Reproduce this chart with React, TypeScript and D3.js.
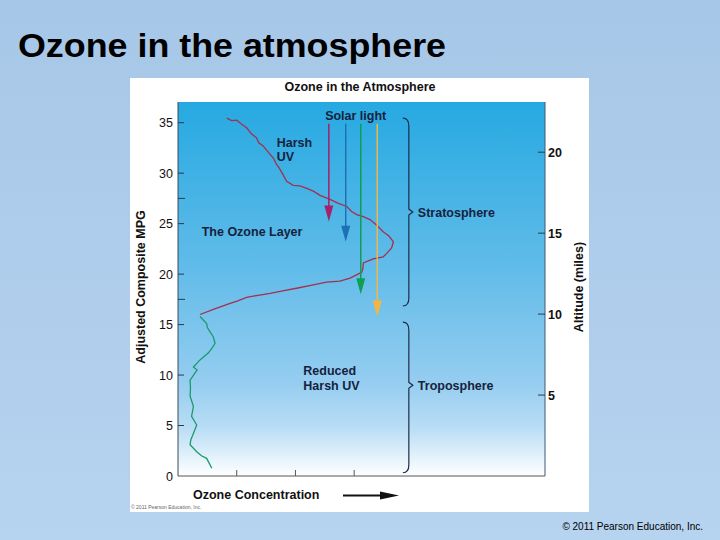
import React from "react";
import * as d3 from "d3";

// ---- data ----
const mpgTicks = [0, 5, 10, 15, 20, 25, 30, 35];
const mpgMinorTicks = [17.5, 27.5];
const milesTicks = [5, 10, 15, 20];
const concTicks = [16, 32, 48];

// ozone profile, upper (stratosphere) segment: [concentration, altitude MPG]
const ozoneUpper: [number, number][] = [
  [13.3, 35.45], [14.6, 35.2], [16.0, 35.25], [17.2, 34.9], [18.7, 34.5], [20.0, 33.9],
  [21.4, 33.5], [22.0, 33.0], [23.2, 32.7], [24.3, 32.2], [25.97, 31.5], [26.8, 30.9],
  [27.6, 30.5], [28.7, 29.8], [29.6, 29.2], [31.4, 28.8], [33.2, 28.75], [35.1, 28.5],
  [37.0, 28.2], [38.7, 27.8], [41.4, 27.4], [43.7, 27.0], [46.0, 26.7], [47.3, 26.2],
  [48.7, 25.9], [50.5, 25.7], [52.3, 25.4], [54.0, 24.9], [55.9, 24.2], [57.4, 23.8],
  [58.7, 23.2], [58.2, 22.6], [57.0, 22.1], [55.9, 21.7], [53.2, 21.5], [50.5, 21.1],
  [50.4, 20.6], [50.1, 20.2], [48.5, 19.9], [46.9, 19.6], [44.1, 19.3], [40.5, 19.2],
  [36.5, 18.9], [32.3, 18.6], [28.5, 18.35], [25.1, 18.1], [21.8, 17.9], [18.7, 17.7],
  [16.3, 17.35], [14.2, 17.1], [10.0, 16.55], [6.0, 16.0]
];
// ozone profile, lower (troposphere) segment
const ozoneLower: [number, number][] = [
  [6.0, 15.8], [7.8, 15.1], [8.0, 14.7], [8.7, 14.3], [9.6, 13.8], [10.1, 13.15],
  [9.3, 12.7], [8.3, 12.2], [6.0, 11.5], [4.2, 10.8], [5.2, 10.5], [4.6, 10.2],
  [3.3, 9.5], [3.4, 8.7], [3.3, 7.9], [4.2, 6.9], [3.7, 5.9], [5.1, 5.05],
  [4.2, 4.2], [3.5, 3.6], [3.3, 3.1], [5.1, 2.4], [6.4, 2.0], [7.8, 1.75],
  [8.6, 1.2], [9.2, 0.76]
];

// solar light arrows: concentration position, start & tip altitude (MPG)
const arrowConc = [41.1, 45.7, 49.8, 54.3];
const arrowStart = [34.9, 34.9, 34.9, 34.9];
const arrowTip = [25.2, 23.2, 18.0, 15.8];

// layer braces (miles)
const layerNames = ["Stratosphere", "Troposphere"];
const layerFrom = [10.5, 0.2];
const layerTo = [22.1, 9.5];
const layerMid = [16.3, 5.6];

// ---- styles ----
const arrowColors = ["#a6206a", "#1f6fb6", "#0e9f52", "#f4b642"];
const navy = "#16223d";
const FONT = "'Liberation Sans', Arial, Helvetica, sans-serif";

export default function App() {
  const W = 720, H = 540;
  const left = 178, right = 545, top = 102, bottom = 476;

  const x = d3.scaleLinear().domain([0, 100]).range([left, right]);
  const y = d3.scaleLinear().domain([0, 37.05]).range([bottom, top]);
  const ym = d3.scaleLinear().domain([0, 23.1]).range([bottom, top]);

  const line = d3.line<[number, number]>().x((d) => x(d[0])).y((d) => y(d[1]));

  const bracePath = (bx: number, y0: number, y1: number, ymid: number) => {
    // y0 top (smaller px), y1 bottom
    return `M${bx - 6},${y0} Q${bx},${y0} ${bx},${y0 + 8} L${bx},${ymid - 3} L${bx + 4},${ymid} L${bx},${ymid + 3} L${bx},${y1 - 8} Q${bx},${y1} ${bx - 6},${y1}`;
  };
  const braceX = x(62.9);

  return (
    <svg width={W} height={H} style={{ position: "absolute", left: 0, top: 0 }} fontFamily={FONT}>
      <defs>
        <linearGradient id="slideBg" x1="0" y1="0" x2="0" y2="1">
          <stop offset="0" stopColor="#a7c7e8" />
          <stop offset="1" stopColor="#b6d3ef" />
        </linearGradient>
        <linearGradient id="skyBg" x1="0" y1="0" x2="0" y2="1">
          <stop offset="0" stopColor="#26a9e1" />
          <stop offset="0.45" stopColor="#62bce9" />
          <stop offset="0.75" stopColor="#95cdf0" />
          <stop offset="0.87" stopColor="#b8ddf5" />
          <stop offset="1" stopColor="#ffffff" />
        </linearGradient>
      </defs>
      <rect x={0} y={0} width={W} height={H} fill="url(#slideBg)" />
      <text x={18} y={57} fontSize={33} fontWeight="bold" fill="#000" textLength={428} lengthAdjust="spacingAndGlyphs">
        Ozone in the atmosphere
      </text>
      <text x={703} y={530} fontSize={10} fill="#000" textAnchor="end">© 2011 Pearson Education, Inc.</text>

      {/* white panel */}
      <rect x={130} y={78} width={459} height={434} fill="#ffffff" />
      <text x={360} y={91} fontSize={12.5} fontWeight="bold" fill="#111" textAnchor="middle">
        Ozone in the Atmosphere
      </text>

      {/* plot background */}
      <rect x={left} y={top} width={right - left} height={bottom - top} fill="url(#skyBg)" />

      {/* axes */}
      <line x1={left} x2={left} y1={top} y2={bottom} stroke="#3a4a5a" strokeWidth={1} />
      <line x1={right} x2={right} y1={top} y2={bottom} stroke="#3a5a78" strokeWidth={1} />
      <line x1={left} x2={right} y1={bottom} y2={bottom} stroke="#555" strokeWidth={1} />

      {mpgTicks.map((t) => (
        <g key={"m" + t}>
          {t > 0 && <line x1={left} x2={left + 6} y1={y(t)} y2={y(t)} stroke="#2a3a4a" />}
          <text x={173} y={y(t)} dy="0.36em" fontSize={12.5} textAnchor="end" fill="#111">{t}</text>
        </g>
      ))}
      {mpgMinorTicks.map((t) => (
        <line key={"mm" + t} x1={left} x2={left + 7} y1={y(t)} y2={y(t)} stroke="#2a3a4a" />
      ))}
      {milesTicks.map((t) => (
        <g key={"mi" + t}>
          <line x1={right - 7} x2={right} y1={ym(t)} y2={ym(t)} stroke="#2a3a4a" />
          <text x={548} y={ym(t)} dy="0.36em" fontSize={12.5} fontWeight="bold" fill="#111">{t}</text>
        </g>
      ))}
      {concTicks.map((t) => (
        <line key={"c" + t} x1={x(t)} x2={x(t)} y1={bottom} y2={bottom - 6} stroke="#555" />
      ))}

      <text transform="translate(145,287) rotate(-90)" fontSize={12.5} fontWeight="bold" textAnchor="middle" fill="#111">
        Adjusted Composite MPG
      </text>
      <text transform="translate(583,287) rotate(-90)" fontSize={12.5} fontWeight="bold" textAnchor="middle" fill="#111">
        Altitude (miles)
      </text>

      <text x={193} y={499} fontSize={12.5} fontWeight="bold" fill="#111">Ozone Concentration</text>
      <line x1={343} x2={382} y1={495.5} y2={495.5} stroke="#111" strokeWidth={2} />
      <path d={`M380,491.5 L399,495.5 L380,499.5 Z`} fill="#111" />
      <text x={131} y={509} fontSize={5} fill="#666">© 2011 Pearson Education, Inc.</text>

      {/* ozone profile */}
      <path d={line(ozoneUpper) || ""} fill="none" stroke="#a3304e" strokeWidth={1.3} />
      <path d={line(ozoneLower) || ""} fill="none" stroke="#1d9a6c" strokeWidth={1.3} />

      {/* solar arrows */}
      {arrowConc.map((c, i) => {
        const ax = x(c);
        const ty = y(arrowTip[i]);
        return (
          <g key={"a" + i}>
            <line x1={ax} x2={ax} y1={y(arrowStart[i])} y2={ty - 12} stroke={arrowColors[i]} strokeWidth={1.5} />
            <path d={`M${ax - 4.5},${ty - 16} L${ax + 4.5},${ty - 16} L${ax},${ty} Z`} fill={arrowColors[i]} />
          </g>
        );
      })}

      {/* braces */}
      {layerNames.map((n, i) => {
        const yTop = ym(layerTo[i]);
        const yBot = ym(layerFrom[i]);
        const yMid = ym(layerMid[i]);
        return (
          <g key={n}>
            <path d={bracePath(braceX, yTop, yBot, yMid)} fill="none" stroke="#1c2c48" strokeWidth={1.2} />
            <text x={braceX + 9} y={yMid} dy="0.36em" fontSize={12.5} fontWeight="bold" fill={navy}>{n}</text>
          </g>
        );
      })}

      {/* annotations */}
      <text x={355.7} y={120} fontSize={12.5} fontWeight="bold" fill={navy} textAnchor="middle">Solar light</text>
      <text x={276.7} y={147} fontSize={12.5} fontWeight="bold" fill={navy}>Harsh</text>
      <text x={276.7} y={161} fontSize={12.5} fontWeight="bold" fill={navy}>UV</text>
      <text x={201.7} y={236} fontSize={12.5} fontWeight="bold" fill={navy}>The Ozone Layer</text>
      <text x={303.3} y={375} fontSize={12.5} fontWeight="bold" fill={navy}>Reduced</text>
      <text x={303.3} y={389.5} fontSize={12.5} fontWeight="bold" fill={navy}>Harsh UV</text>
    </svg>
  );
}
